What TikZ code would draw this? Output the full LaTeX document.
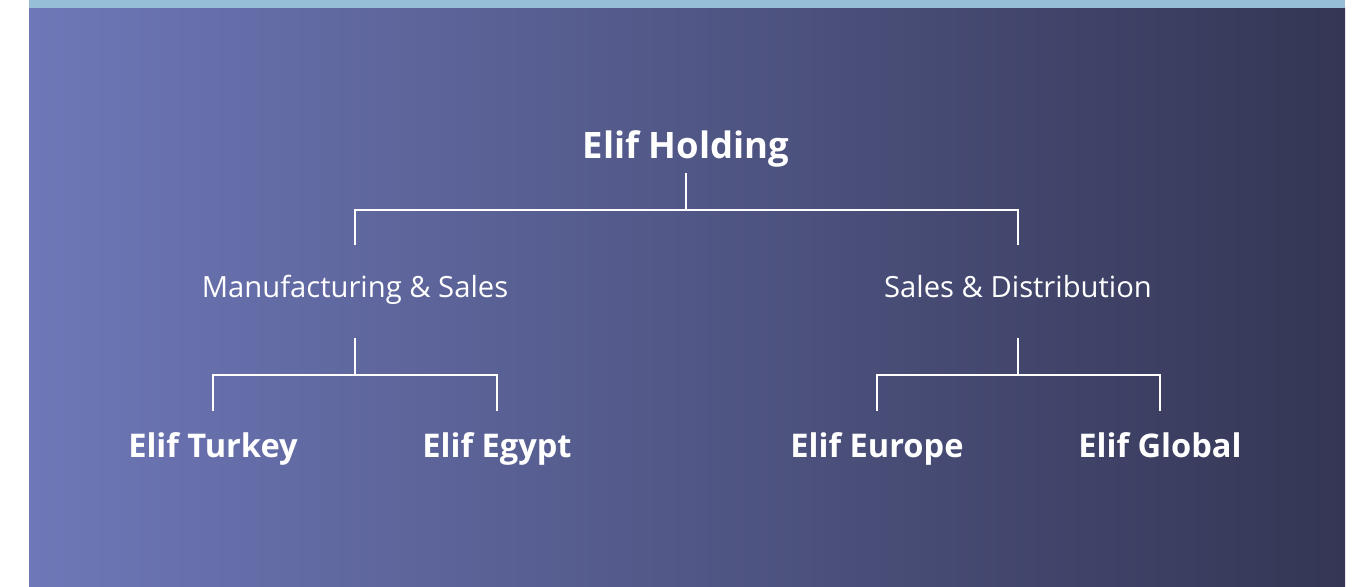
\documentclass[tikz,border=0pt]{standalone}
\usepackage{fontspec}
\setmainfont{Open Sans}
\definecolor{bgleft}{RGB}{110,120,184}
\definecolor{bgright}{RGB}{52,54,84}
\definecolor{topbar}{RGB}{150,190,214}
\tikzset{
    unit/.style = {
        anchor=base,
        text=white,
        inner sep=0pt,
        font=\fontsize{16.3}{20}\selectfont\bfseries,
        },
    top unit/.style = {
        unit,
        font=\fontsize{18.2}{22}\selectfont\bfseries,
        },
    division/.style = {
        anchor=base,
        text=white,
        inner sep=0pt,
        font=\fontsize{14.6}{17}\selectfont,
        },
    link/.style = {
        draw=white,
        line width=1pt,
        },
}
\begin{document}
\begin{tikzpicture}[x=0.5pt,y=0.5pt]
            \useasboundingbox (0,0) rectangle (1355,587);
            \shade[left color=bgleft, right color=bgright] (29,0) rectangle (1345,579);
            \fill[topbar] (29,579) rectangle (1345,587);

            \node[top unit] (holding) at (686,428) {Elif Holding};
            \node[division] (manu) at (355,289) {Manufacturing \& Sales};
            \node[division] (dist) at (1018,289) {Sales \& Distribution};
            \node[unit] (turkey) at (213,129) {Elif Turkey};
            \node[unit] (egypt) at (497,129) {Elif Egypt};
            \node[unit] (europe) at (877,129) {Elif Europe};
            \node[unit] (global) at (1160,129) {Elif Global};

            % stems above and below the labels
            \path (holding.base) ++(0,-14) coordinate (holding low);
            \path (manu.base) ++(0,53) coordinate (manu top);
            \path (dist.base) ++(0,53) coordinate (dist top);
            \path (manu.base) ++(0,-40) coordinate (manu low);
            \path (dist.base) ++(0,-40) coordinate (dist low);
            \path (turkey.base) ++(0,47) coordinate (turkey top);
            \path (egypt.base) ++(0,47) coordinate (egypt top);
            \path (europe.base) ++(0,47) coordinate (europe top);
            \path (global.base) ++(0,47) coordinate (global top);

            \draw[link] (holding low) -- ++(0,-37) coordinate (holding fork);
            \draw[link] (manu top) |- (holding fork) -| (dist top);
            \draw[link] (manu low) -- ++(0,-37) coordinate (manu fork);
            \draw[link] (turkey top) |- (manu fork) -| (egypt top);
            \draw[link] (dist low) -- ++(0,-37) coordinate (dist fork);
            \draw[link] (europe top) |- (dist fork) -| (global top);
        \end{tikzpicture}
\end{document}
